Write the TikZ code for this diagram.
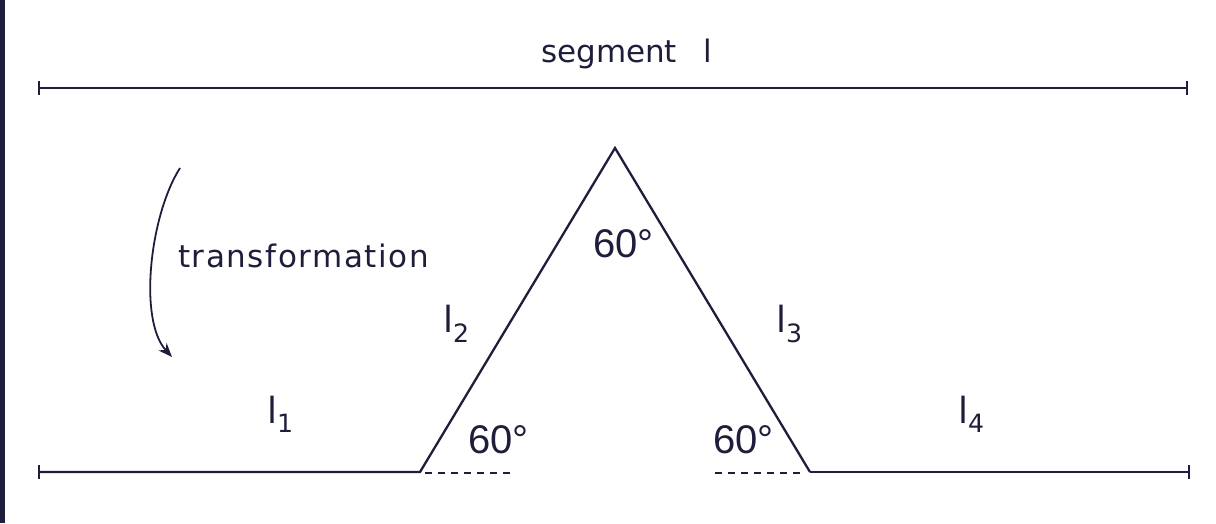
\documentclass[tikz,border=0pt]{standalone}
\usepackage{fontspec}
\setmainfont{DejaVu Sans}
\newfontfamily\numfont{Liberation Sans}
\usetikzlibrary{arrows.meta, positioning, calc}

\begin{document}
\begin{tikzpicture}[x=1pt, y=-1pt, >={Stealth[length=14pt, width=11pt]}, line width=2.3pt, color={rgb,255:red,30;green,30;blue,60},
    seg/.style={{Bar[width=14pt]}-{Bar[width=14pt]}},
    txt/.style={anchor=base west, inner sep=0pt, font=\fontsize{31}{36}\selectfont},
    part/.style={anchor=base west, inner sep=0pt, font=\fontsize{36}{40}\selectfont},
    angle/.style={anchor=base west, inner sep=0pt, font=\numfont\fontsize{40}{44}\selectfont}]
    \useasboundingbox (0,0) rectangle (1216,523);
    % scan edge
    \fill (0,0) rectangle (5,523);

    % Points
    \coordinate (S1) at (38,88);
    \coordinate (S2) at (1188,88);
    \coordinate (A) at (38,472);
    \coordinate (B) at (420,472);
    \coordinate (C) at (615,148);
    \coordinate (D) at (810,472);
    \coordinate (E) at (1190,472);
    \coordinate (B2) at (515,473);
    \coordinate (D2) at (715,473);
    \coordinate (T1) at (180,168);
    \coordinate (T2) at (172,357);

    % Segment l
    \draw[seg] (S1) -- (S2);
    \node[txt] (seglbl) at (540,62) {segment\hspace{26pt}l};

    % Transformed curve
    \draw[{Bar[width=14pt]}-] (A) -- (B) -- (C) -- (D);
    \draw[-{Bar[width=14pt]}] (D) -- (E);
    \draw[dashed, line width=1.5pt, dash pattern=on 7pt off 6pt] ($(B)+(5,1)$) -- (B2);
    \draw[dashed, line width=1.5pt, dash pattern=on 7pt off 6pt] (D2) -- ($(D)+(-5,1)$);

    % Transformation arrow
    \node[txt, font=\fontsize{31}{36}\selectfont\addfontfeatures{LetterSpace=5}] (trans) at (177,267) {transformation};
    \draw[->, line width=1.8pt] (T1) .. controls (150,215) and (138,320) .. (T2);

    % Part labels
    \node[part] (l1) at (266,423) {l\textsubscript{1}};
    \node[part] (l2) at (442,332) {l\textsubscript{2}};
    \node[part] (l3) at (775,332) {l\textsubscript{3}};
    \node[part] (l4) at (957,423) {l\textsubscript{4}};

    % Angles
    \node[angle] (a1) at (592,257) {60°};
    \node[angle] (a2) at (467,453) {60°};
    \node[angle] (a3) at (712,453) {60°};
\end{tikzpicture}
\end{document}
